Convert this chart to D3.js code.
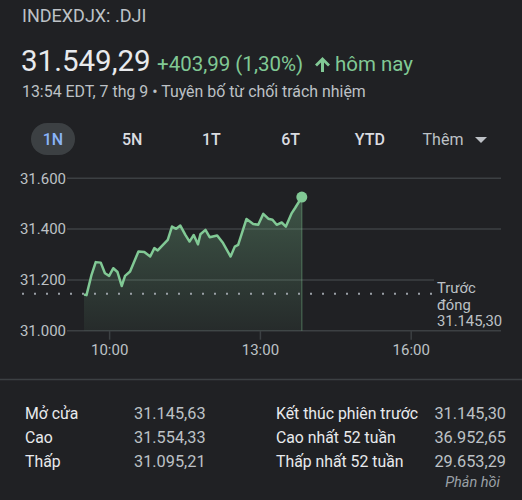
<!DOCTYPE html>
<html>
<head>
<meta charset="utf-8">
<script src="https://cdn.jsdelivr.net/npm/d3@7"></script>
<style>
  body { margin: 0; background: #202124; }
  svg { display: block; font-family: Roboto, "Noto Sans", sans-serif; }
</style>
</head>
<body>
<svg id="vis-svg"></svg>
<script>
// intraday quotes (time, value)
const times = ["9:30","9:33","9:39","9:44","9:50","9:55","10:00","10:05","10:10","10:15",
  "10:19","10:25","10:35","10:42","10:49","10:54","10:58","11:10","11:15","11:20",
  "11:25","11:31","11:36","11:41","11:46","11:49","11:55","12:00","12:09","12:16",
  "12:25","12:30","12:34","12:44","12:52","12:58","13:04","13:10","13:15","13:20",
  "13:26","13:31","13:38","13:42","13:50"];
const values = [31142,31140,31220,31270,31268,31226,31216,31246,31231,31176,
  31216,31233,31312,31310,31292,31325,31316,31358,31410,31401,
  31414,31377,31351,31377,31340,31380,31397,31368,31375,31345,
  31292,31331,31338,31440,31420,31417,31460,31441,31437,31417,
  31426,31410,31463,31483,31526];

const yTicks = [31000, 31200, 31400, 31600];
const xTicks = ["10:00", "13:00", "16:00"];
const lastPrice = 31549.29;
const prevClose = 31145.30;
const tabs = ["1N", "5N", "1T", "6T", "YTD", "Thêm"];

const statLabelsLeft = ["Mở cửa", "Cao", "Thấp"];
const statValuesLeft = [31145.63, 31554.33, 31095.21];
const statLabelsRight = ["Kết thúc phiên trước", "Cao nhất 52 tuần", "Thấp nhất 52 tuần"];
const statValuesRight = [31145.30, 36952.65, 29653.29];

const vn = d3.formatLocale({decimal: ",", thousands: ".", grouping: [3], currency: ["", ""]});
const fmt0 = vn.format(",.0f");
const fmt2 = vn.format(",.2f");
const parseTime = d3.timeParse("%H:%M");

const green = "#81c995";
const grid = "#3c4043";

let svg = d3.select("#vis-svg").attr("width", 522).attr("height", 500);

// header
svg.append("text").attr("x", 22).attr("y", 22)
  .attr("font-size", 18).attr("fill", "#bdc1c6").text("INDEXDJX: .DJI");
svg.append("text").attr("x", 21).attr("y", 71)
  .attr("font-size", 29.5).attr("fill", "#e8eaed").text(fmt2(lastPrice));
svg.append("text").attr("x", 157).attr("y", 71)
  .attr("font-size", 20.5).attr("fill", green).text("+403,99 (1,30%)");
// up arrow
svg.append("path")
  .attr("d", "M322.5,57 L315,64.5 L317,66.5 L321,62.5 L321,72 L324,72 L324,62.5 L328,66.5 L330,64.5 Z")
  .attr("fill", green);
svg.append("text").attr("x", 335).attr("y", 71)
  .attr("font-size", 20.5).attr("fill", green).text("hôm nay");
svg.append("text").attr("x", 22).attr("y", 97)
  .attr("font-size", 15.9).attr("fill", "#bdc1c6")
  .text("13:54 EDT, 7 thg 9 • Tuyên bố từ chối trách nhiệm");

// range tabs
let tabScale = d3.scalePoint().domain(tabs).range([53, 449]);
svg.append("rect").attr("x", 31).attr("y", 123).attr("width", 44).attr("height", 32)
  .attr("rx", 16).attr("fill", "#3c4043");
svg.selectAll("text.tab")
  .data(tabs)
  .enter()
    .append("text")
    .attr("class", "tab")
    .attr("x", d => d === "Thêm" ? tabScale(d) - 6 : tabScale(d))
    .attr("y", 144.5)
    .attr("text-anchor", "middle")
    .attr("font-size", 16)
    .attr("font-weight", d => d === "Thêm" ? 400 : 500)
    .attr("fill", (d, i) => i === 0 ? "#8ab4f8" : (d === "Thêm" ? "#bdc1c6" : "#dadce0"))
    .text(d => d);
svg.append("path")
  .attr("d", `M${tabScale("Thêm") + 26},137 l12,0 l-6,6 Z`)
  .attr("fill", "#bdc1c6");

// scales
let xScale = d3.scaleTime()
  .domain([parseTime("9:30"), parseTime("16:00")])
  .range([84, 410.7]);
let yScale = d3.scaleLinear()
  .domain([31000, 31600])
  .range([330.7, 178.3]);

let points = times.map((t, i) => ({t: parseTime(t), v: values[i]}));

// gridlines
svg.selectAll("line.grid")
  .data(yTicks)
  .enter()
    .append("line")
    .attr("class", "grid")
    .attr("x1", 67).attr("x2", 501)
    .attr("y1", d => yScale(d)).attr("y2", d => yScale(d))
    .attr("stroke", grid).attr("stroke-width", 1.5);

// y labels
let yAxis = d3.axisLeft(yScale).tickValues(yTicks).tickFormat(fmt0).tickSize(0).tickPadding(1);
let gy = svg.append("g").attr("transform", "translate(67,0)").call(yAxis);
gy.select(".domain").remove();
gy.selectAll("text").attr("font-size", 15).attr("fill", "#bdc1c6")
  .attr("font-family", "Roboto, sans-serif");

// x axis
let xAxis = d3.axisBottom(xScale)
  .tickValues(xTicks.map(parseTime))
  .tickFormat(d3.timeFormat("%H:%M"))
  .tickSize(9).tickPadding(5);
let gx = svg.append("g").attr("transform", `translate(0,${yScale(31000)})`).call(xAxis);
gx.select(".domain").remove();
gx.selectAll("line").attr("stroke", grid).attr("stroke-width", 1.5);
gx.selectAll("text").attr("font-size", 15).attr("fill", "#bdc1c6")
  .attr("font-family", "Roboto, sans-serif");

// area gradient
let defs = svg.append("defs");
let grad = defs.append("linearGradient").attr("id", "fillGrad")
  .attr("gradientUnits", "userSpaceOnUse")
  .attr("x1", 0).attr("x2", 0)
  .attr("y1", yScale(31550)).attr("y2", yScale(31000));
grad.append("stop").attr("offset", 0).attr("stop-color", green).attr("stop-opacity", 0.32);
grad.append("stop").attr("offset", 1).attr("stop-color", green).attr("stop-opacity", 0.06);

let area = d3.area()
  .x(d => xScale(d.t))
  .y0(yScale(31000))
  .y1(d => yScale(d.v));
svg.append("path").datum(points).attr("d", area).attr("fill", "url(#fillGrad)");

let last = points[points.length - 1];
svg.append("line")
  .attr("x1", xScale(last.t)).attr("x2", xScale(last.t))
  .attr("y1", yScale(last.v)).attr("y2", yScale(31000))
  .attr("stroke", green).attr("stroke-opacity", 0.3).attr("stroke-width", 1.5);

// previous close dotted line
svg.append("line")
  .attr("x1", 22).attr("x2", 433)
  .attr("y1", yScale(prevClose)).attr("y2", yScale(prevClose))
  .attr("stroke", "#9aa0a6").attr("stroke-width", 2)
  .attr("stroke-dasharray", "2,10");

let line = d3.line()
  .x(d => xScale(d.t))
  .y(d => yScale(d.v));
svg.append("path").datum(points).attr("d", line)
  .attr("fill", "none").attr("stroke", green).attr("stroke-width", 2.5)
  .attr("stroke-linejoin", "round");
svg.append("circle")
  .attr("cx", xScale(last.t)).attr("cy", yScale(last.v)).attr("r", 5.5)
  .attr("fill", green);

// previous close label
svg.append("rect").attr("x", 434).attr("y", 276).attr("width", 72).attr("height", 52)
  .attr("fill", "#202124");
svg.append("text")
  .attr("x", 437).attr("font-size", 14.8).attr("fill", "#bdc1c6")
  .selectAll("tspan")
  .data(["Trước", "đóng", fmt2(prevClose)])
  .enter()
    .append("tspan")
    .attr("x", 437)
    .attr("y", (d, i) => 293 + i * 16.5)
    .text(d => d);

// separator
svg.append("line").attr("x1", 0).attr("x2", 522).attr("y1", 379.5).attr("y2", 379.5)
  .attr("stroke", grid).attr("stroke-width", 1.5);

// stats
let rowY = d3.scalePoint().domain(d3.range(3)).range([419, 467]);
svg.selectAll("text.lbl-l").data(statLabelsLeft).enter().append("text")
  .attr("x", 25).attr("y", (d, i) => rowY(i))
  .attr("font-size", 15.8).attr("fill", "#e8eaed").text(d => d);
svg.selectAll("text.val-l").data(statValuesLeft).enter().append("text")
  .attr("x", 134).attr("y", (d, i) => rowY(i))
  .attr("font-size", 16.3).attr("fill", "#bdc1c6").text(d => fmt2(d));
svg.selectAll("text.lbl-r").data(statLabelsRight).enter().append("text")
  .attr("x", 276).attr("y", (d, i) => rowY(i))
  .attr("font-size", 15.8).attr("fill", "#e8eaed").text(d => d);
svg.selectAll("text.val-r").data(statValuesRight).enter().append("text")
  .attr("x", 506).attr("y", (d, i) => rowY(i)).attr("text-anchor", "end")
  .attr("font-size", 16.3).attr("fill", "#bdc1c6").text(d => fmt2(d));

svg.append("text").attr("x", 500).attr("y", 487).attr("text-anchor", "end")
  .attr("font-size", 14.5).attr("font-style", "italic").attr("fill", "#9aa0a6")
  .text("Phản hồi");
</script>
</body>
</html>
